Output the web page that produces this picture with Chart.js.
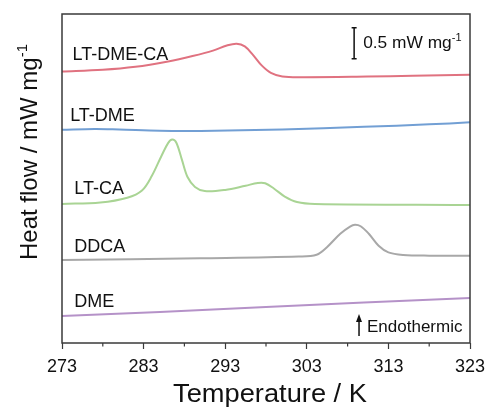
<!DOCTYPE html>
<html>
<head>
<meta charset="utf-8">
<script src="https://cdn.jsdelivr.net/npm/chart.js@4/dist/chart.umd.min.js"></script>
<style>
  html, body { margin: 0; padding: 0; background: #fff; }
  #wrap { width: 490px; height: 408px; }
</style>
</head>
<body>
<div id="wrap"><canvas id="dsc" width="490" height="408"></canvas></div>
<script>
// temperatures (K) and heat flow (mW/mg, stacked with offsets)
const dmeT = [273, 285, 298, 310, 323];
const dmeV = [0.45, 0.517, 0.60, 0.675, 0.75];

const ddcaT = [273, 289.9, 302.0, 304.2, 305.5, 307.1, 308.3, 308.9, 309.6, 310.6, 311.8, 313.0, 314.8, 318, 323];
const ddcaV = [1.383, 1.412, 1.44, 1.47, 1.60, 1.82, 1.94, 1.97, 1.945, 1.82, 1.62, 1.51, 1.467, 1.455, 1.455];

const ltcaT = [273, 277.7, 281.0, 282.8, 284.0, 285.2, 286.0, 286.5, 287.0, 287.7, 288.4, 289.3, 290.5, 293.0, 295.5, 297.0, 297.9, 299.0, 300.3, 301.8, 304.0, 323];
const ltcaV = [2.317, 2.34, 2.42, 2.54, 2.78, 3.12, 3.33, 3.39, 3.34, 3.05, 2.76, 2.60, 2.53, 2.55, 2.62, 2.665, 2.66, 2.57, 2.44, 2.35, 2.317, 2.30];

const ltdmeT = [273, 277, 280, 285, 290, 300, 310, 318, 323];
const ltdmeV = [3.55, 3.565, 3.556, 3.535, 3.533, 3.556, 3.60, 3.642, 3.675];

const ltdmecaT = [273, 278, 282, 286, 289, 291.5, 293.2, 294.4, 295.4, 296.4, 297.5, 298.6, 300.0, 302.5, 310.4, 316, 323];
const ltdmecaV = [4.522, 4.55, 4.60, 4.69, 4.78, 4.87, 4.955, 4.985, 4.94, 4.80, 4.62, 4.50, 4.44, 4.428, 4.438, 4.45, 4.467];

const seriesNames = ['DME', 'DDCA', 'LT-CA', 'LT-DME', 'LT-DME-CA'];
const seriesColors = ['#b592c8', '#a8a8a8', '#a9d494', '#729fd4', '#e07280'];
const xTickLabels = [273, 283, 293, 303, 313, 323];

const FONT = '"Liberation Sans", Arial, sans-serif';

function pts(t, v) { return t.map((x, i) => ({ x: x, y: v[i] })); }
const allT = [dmeT, ddcaT, ltcaT, ltdmeT, ltdmecaT];
const allV = [dmeV, ddcaV, ltcaV, ltdmeV, ltdmecaV];

// label anchor (temperature, value) for each curve's name
const labelAt = [[274.5, 0.6], [274.5, 1.52], [274.5, 2.48], [274, 3.7], [274.3, 4.72]];

function wideText(ctx, s, x, y, sx) {
  ctx.save();
  ctx.translate(x, y);
  ctx.scale(sx, 1);
  ctx.fillText(s, 0, 0);
  ctx.restore();
  return ctx.measureText(s).width * sx;
}

const extras = {
  id: 'extras',
  afterDraw(chart) {
    const { ctx, chartArea: a, scales } = chart;
    const xs = scales.x, ys = scales.y;
    ctx.save();
    // frame
    ctx.strokeStyle = '#3a3a3a';
    ctx.lineWidth = 1.5;
    ctx.strokeRect(a.left, a.top, a.right - a.left, a.bottom - a.top);

    // minor ticks
    ctx.lineWidth = 1.2;
    for (let t = 278; t < 323; t += 10) {
      const px = xs.getPixelForValue(t);
      ctx.beginPath();
      ctx.moveTo(px, a.bottom);
      ctx.lineTo(px, a.bottom + 3.5);
      ctx.stroke();
    }

    // curve names
    ctx.fillStyle = '#111';
    ctx.font = '18px ' + FONT;
    ctx.textBaseline = 'alphabetic';
    ctx.textAlign = 'left';
    seriesNames.forEach((n, i) => {
      ctx.fillText(n, xs.getPixelForValue(labelAt[i][0]), ys.getPixelForValue(labelAt[i][1]));
    });

    // scale bar 0.5 mW mg-1
    const bx = xs.getPixelForValue(308.8);
    const by0 = ys.getPixelForValue(5.25), by1 = ys.getPixelForValue(4.733);
    ctx.strokeStyle = '#111';
    ctx.lineWidth = 1.5;
    ctx.beginPath();
    ctx.moveTo(bx, by0); ctx.lineTo(bx, by1);
    ctx.moveTo(bx - 2.5, by0); ctx.lineTo(bx + 2.5, by0);
    ctx.moveTo(bx - 2.5, by1); ctx.lineTo(bx + 2.5, by1);
    ctx.stroke();
    ctx.font = '17px ' + FONT;
    let w = wideText(ctx, '0.5 mW mg', bx + 9, 48, 1.02);
    ctx.font = '11px ' + FONT;
    ctx.fillText('-1', bx + 9 + w, 41);

    // endothermic arrow
    const ax = xs.getPixelForValue(309.4);
    ctx.beginPath();
    ctx.moveTo(ax, 336); ctx.lineTo(ax, 319);
    ctx.stroke();
    ctx.beginPath();
    ctx.moveTo(ax, 314); ctx.lineTo(ax - 3, 322); ctx.lineTo(ax + 3, 322);
    ctx.closePath();
    ctx.fill();
    ctx.font = '17px ' + FONT;
    wideText(ctx, 'Endothermic', ax + 8, 332, 1.0);

    // x title
    ctx.font = '25px ' + FONT;
    ctx.textAlign = 'center';
    wideText(ctx, 'Temperature / K', 270, 402, 1.09);

    // y title
    ctx.translate(37, 260);
    ctx.rotate(-Math.PI / 2);
    ctx.textAlign = 'left';
    ctx.font = '24px ' + FONT;
    ctx.fillText('Heat flow / mW mg', 0, 0);
    w = ctx.measureText('Heat flow / mW mg').width;
    ctx.font = '15px ' + FONT;
    ctx.fillText('-1', w, -10);
    ctx.restore();
  }
};

new Chart(document.getElementById('dsc'), {
  type: 'line',
  data: {
    datasets: seriesNames.map((n, i) => ({
      label: n,
      data: pts(allT[i], allV[i]),
      borderColor: seriesColors[i],
      borderWidth: 2,
      pointRadius: 0,
      fill: false,
      tension: 0.35
    }))
  },
  options: {
    responsive: false,
    animation: false,
    layout: { padding: { left: 62, right: 20, top: 14, bottom: 0 } },
    plugins: { legend: { display: false }, tooltip: { enabled: false } },
    scales: {
      x: {
        type: 'linear',
        min: 273,
        max: 323,
        border: { display: false },
        afterFit: (s) => { s.height = 65; s.paddingLeft = 0; s.paddingRight = 0; },
        grid: {
          drawOnChartArea: false,
          tickLength: 6,
          tickWidth: 1.2,
          tickColor: (c) => (c.tick && xTickLabels.includes(c.tick.value) ? '#3a3a3a' : 'rgba(0,0,0,0)')
        },
        ticks: {
          stepSize: 5,
          autoSkip: false,
          maxRotation: 0,
          padding: 7,
          color: '#111',
          font: { family: FONT, size: 18 },
          callback: (v) => (xTickLabels.includes(v) ? String(v) : '')
        }
      },
      y: {
        display: false,
        min: 0,
        max: 5.48
      }
    }
  },
  plugins: [extras]
});
</script>
</body>
</html>
